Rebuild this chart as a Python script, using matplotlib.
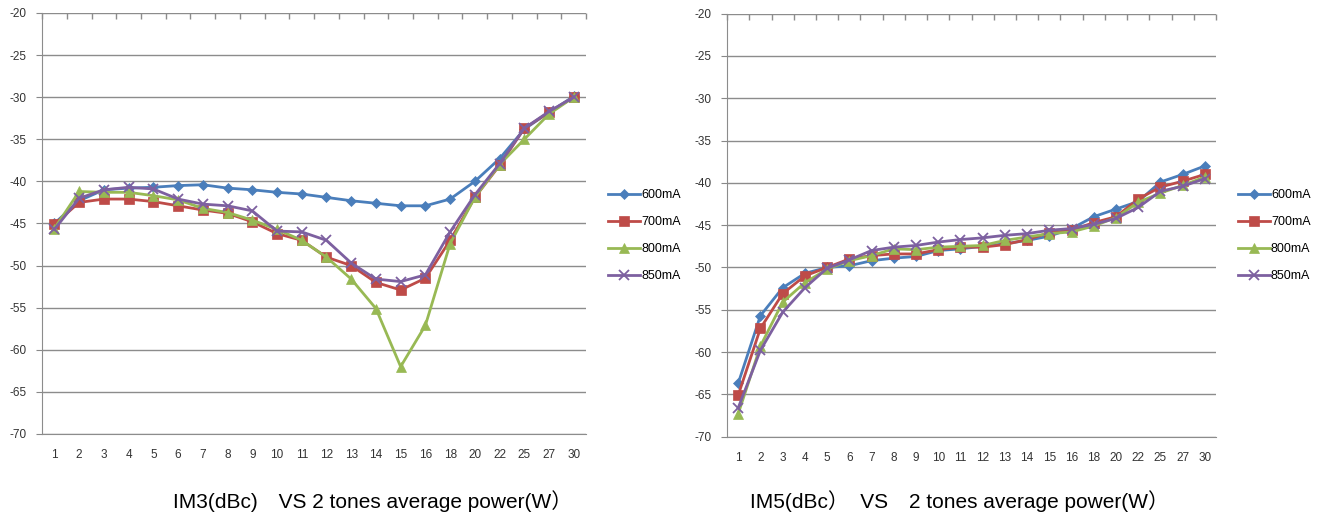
import matplotlib
matplotlib.use("Agg")
import matplotlib.pyplot as plt
import numpy as np

# category axis (W)
power = ["1", "2", "3", "4", "5", "6", "7", "8", "9", "10", "11", "12",
         "13", "14", "15", "16", "18", "20", "22", "25", "27", "30"]
series_names = ["600mA", "700mA", "800mA", "850mA"]

# IM3 (dBc)
im3_600 = [-45.0, -42.3, -41.0, -40.8, -40.7, -40.5, -40.4, -40.8, -41.0, -41.3, -41.5,
           -41.9, -42.3, -42.6, -42.9, -42.9, -42.1, -40.0, -37.3, -33.8, -31.8, -29.9]
im3_700 = [-45.1, -42.5, -42.1, -42.1, -42.4, -42.9, -43.4, -43.8, -44.8, -46.2, -47.0,
           -49.0, -50.0, -52.0, -52.9, -51.5, -47.0, -41.9, -38.1, -33.7, -31.8, -30.0]
im3_800 = [-45.6, -41.2, -41.3, -41.3, -41.7, -42.2, -43.2, -43.7, -44.6, -45.7, -47.0,
           -49.0, -51.6, -55.1, -62.0, -57.1, -47.4, -41.9, -38.0, -35.0, -32.0, -30.0]
im3_850 = [-45.7, -42.0, -41.0, -40.7, -40.9, -42.1, -42.7, -42.9, -43.5, -45.9, -46.0,
           -47.0, -49.7, -51.6, -51.9, -51.1, -46.0, -41.6, -37.9, -33.7, -31.7, -30.0]

# IM5 (dBc)
im5_600 = [-63.7, -55.7, -52.4, -50.7, -50.0, -49.8, -49.2, -48.9, -48.7, -48.0, -47.8,
           -47.5, -47.2, -46.8, -46.3, -45.4, -44.0, -43.1, -42.2, -39.9, -39.0, -38.0]
im5_700 = [-65.1, -57.2, -53.1, -51.0, -50.0, -49.0, -48.6, -48.4, -48.4, -47.9, -47.6,
           -47.6, -47.3, -46.7, -45.9, -45.6, -44.7, -44.0, -41.9, -40.5, -39.8, -39.0]
im5_800 = [-67.3, -59.3, -54.1, -51.8, -50.2, -49.2, -48.6, -47.8, -47.9, -47.6, -47.5,
           -47.4, -46.8, -46.4, -46.0, -45.8, -45.1, -44.1, -42.3, -41.2, -40.3, -39.3]
im5_850 = [-66.6, -59.8, -55.3, -52.4, -50.1, -49.1, -48.0, -47.6, -47.4, -47.0, -46.7,
           -46.5, -46.2, -46.0, -45.6, -45.4, -44.9, -44.2, -42.9, -41.0, -40.4, -39.5]

colors = ["#4A7EBB", "#BE4B48", "#98B954", "#7D60A0"]
markers = ["D", "s", "^", "x"]
msizes = [5, 7, 7, 7]

tick_font = "Liberation Sans"
title_font = ["Liberation Sans", "Noto Sans CJK SC"]

fig = plt.figure(figsize=(13.27, 5.23), dpi=100)
ax1 = fig.add_axes([0.0317, 0.1702, 0.41, 0.805])
ax2 = fig.add_axes([0.5479, 0.165, 0.3685, 0.809])


def draw(ax, data):
    x = np.arange(len(power))
    lines = []
    for vals, c, m, ms, name in zip(data, colors, markers, msizes, series_names):
        ln, = ax.plot(x, vals, color=c, marker=m, markersize=ms, lw=2,
                      markeredgewidth=1.3 if m == "x" else 0.5, label=name)
        lines.append(ln)
    ax.set_xlim(-0.5, len(power) - 0.5)
    ax.set_ylim(-70, -20)
    ax.set_yticks(np.arange(-70, -19, 5))
    ax.set_yticklabels([str(v) for v in range(-70, -19, 5)], family=tick_font, fontsize=8.5)
    ax.set_xticks(x)
    ax.set_xticklabels(power, family=tick_font, fontsize=8.5)
    ax.tick_params(axis="x", length=0, pad=11, colors="#333333")
    ax.tick_params(axis="y", length=4, pad=7, colors="#333333", color="#888888")
    ax.yaxis.grid(True, color="#8c8c8c", lw=1)
    ax.set_axisbelow(True)
    for s in ["right", "top"]:
        ax.spines[s].set_visible(False)
    for s in ["left", "bottom"]:
        ax.spines[s].set_color("#8c8c8c")
    # small tick marks along the top line, at category boundaries
    ax.vlines(np.arange(len(power) + 1) - 0.5, -20.7, -20, color="#8c8c8c", lw=1, clip_on=False)
    return lines


l1 = draw(ax1, [im3_600, im3_700, im3_800, im3_850])
l2 = draw(ax2, [im5_600, im5_700, im5_800, im5_850])

for lines, anchor in [(l1, (0.4544, 0.5497)), (l2, (0.929, 0.5497))]:
    fig.legend(handles=lines, loc="center left", bbox_to_anchor=anchor, frameon=False,
               prop={"family": tick_font, "size": 9}, labelspacing=1.2,
               handlelength=2.6, handletextpad=0.05, borderaxespad=0)

fig.text(0.281, 0.042, "IM3(dBc)\u3000VS 2 tones average power(W\uff09",
         ha="center", va="center", fontsize=15, family=title_font)
fig.text(0.723, 0.042, "IM5(dBc\uff09  VS\u30002 tones average power(W\uff09",
         ha="center", va="center", fontsize=15, family=title_font)

fig.savefig("out.png", dpi=100)
